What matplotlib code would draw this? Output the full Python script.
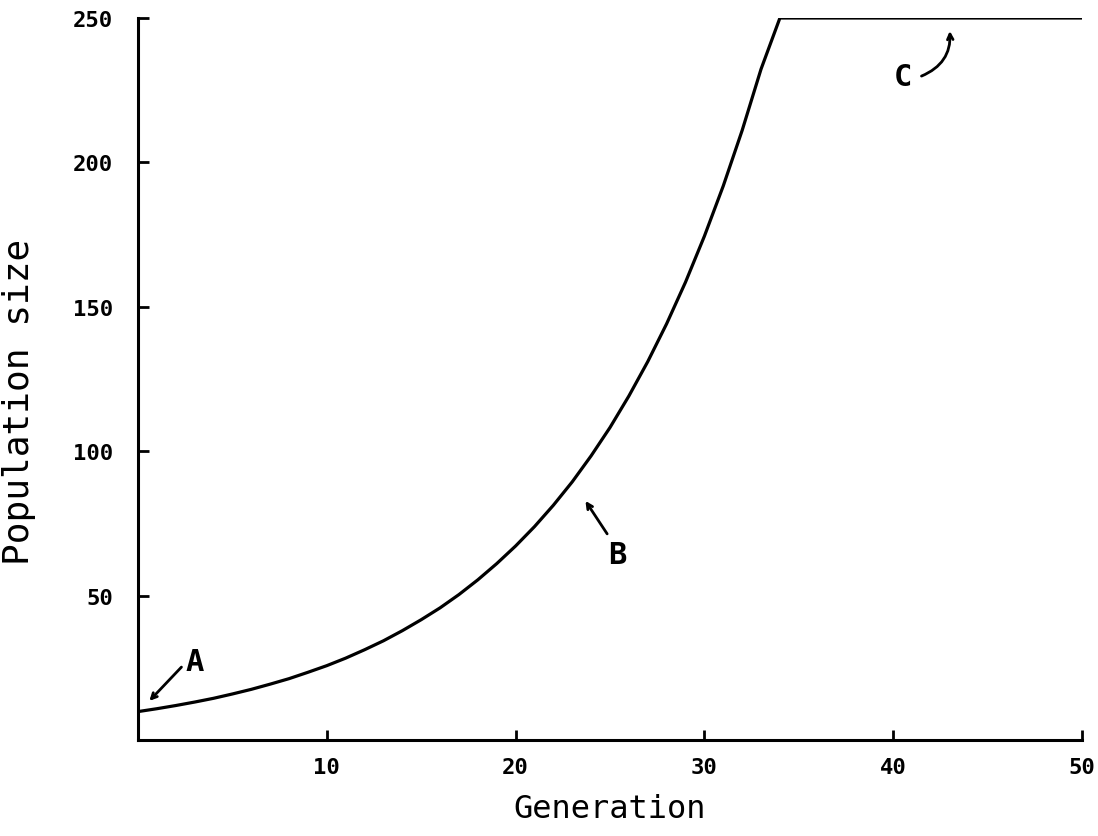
import matplotlib.pyplot as plt

# values
generation = list(range(0, 35)) + [50]
population = [10, 11, 12.1, 13.3, 14.6, 16.1, 17.7, 19.5, 21.4, 23.6,
              25.9, 28.5, 31.4, 34.5, 38.0, 41.8, 45.9, 50.5, 55.6, 61.2,
              67.3, 74.0, 81.4, 89.5, 98.5, 108.3, 119.2, 131.1, 144.2, 158.6,
              174.5, 191.9, 211.1, 232.3, 250, 250]

x_ticks = [10, 20, 30, 40, 50]
y_ticks = [50, 100, 150, 200, 250]

# letter, text position, arrow tail, arrow head, arrow bend
labels = ['A', 'B', 'C']
label_pos = [(3.0, 27.5), (25.4, 64.5), (40.5, 229.6)]
arrow_tail = [(2.3, 25.4), (24.85, 71.5), (41.5, 229.9)]
arrow_head = [(0.6, 13.7), (23.7, 82.9), (43.0, 245.5)]
arrow_rad = [0, 0, 0.35]

mono = 'DejaVu Sans Mono'

fig = plt.figure(figsize=(10.98, 8.37), dpi=100)
ax = fig.add_axes([0.1257, 0.1141, 0.8597, 0.8632])

ax.plot(generation, population, color='black', lw=2.3, solid_joinstyle='miter')

ax.set_xlim(0, 50)
ax.set_ylim(0, 250)
ax.set_xticks(x_ticks)
ax.set_yticks(y_ticks)
ax.spines['top'].set_visible(False)
ax.spines['right'].set_visible(False)
for s in ['left', 'bottom']:
    ax.spines[s].set_linewidth(2.2)
ax.tick_params(axis='y', direction='in', length=8, width=2, pad=18)
ax.tick_params(axis='x', direction='in', length=7, width=2, pad=12)
for lab in ax.get_xticklabels() + ax.get_yticklabels():
    lab.set_fontfamily(mono)
    lab.set_fontweight('bold')
    lab.set_fontsize(16)

ax.set_xlabel('Generation', fontfamily=mono, fontsize=23)
ax.xaxis.set_label_coords(0.5, -0.072)
ax.set_ylabel('Population size', fontfamily=mono, fontsize=26)
ax.yaxis.set_label_coords(-0.108, 0.47)

for i in range(len(labels)):
    ax.text(label_pos[i][0], label_pos[i][1], labels[i], fontfamily=mono,
            fontweight='bold', fontsize=22, ha='center', va='center')
    ax.annotate('', xy=arrow_head[i], xytext=arrow_tail[i],
                arrowprops=dict(arrowstyle='->', lw=2, color='black',
                                shrinkA=0, shrinkB=0,
                                connectionstyle='arc3,rad=%s' % arrow_rad[i]))

fig.savefig('out.png', dpi=100)
